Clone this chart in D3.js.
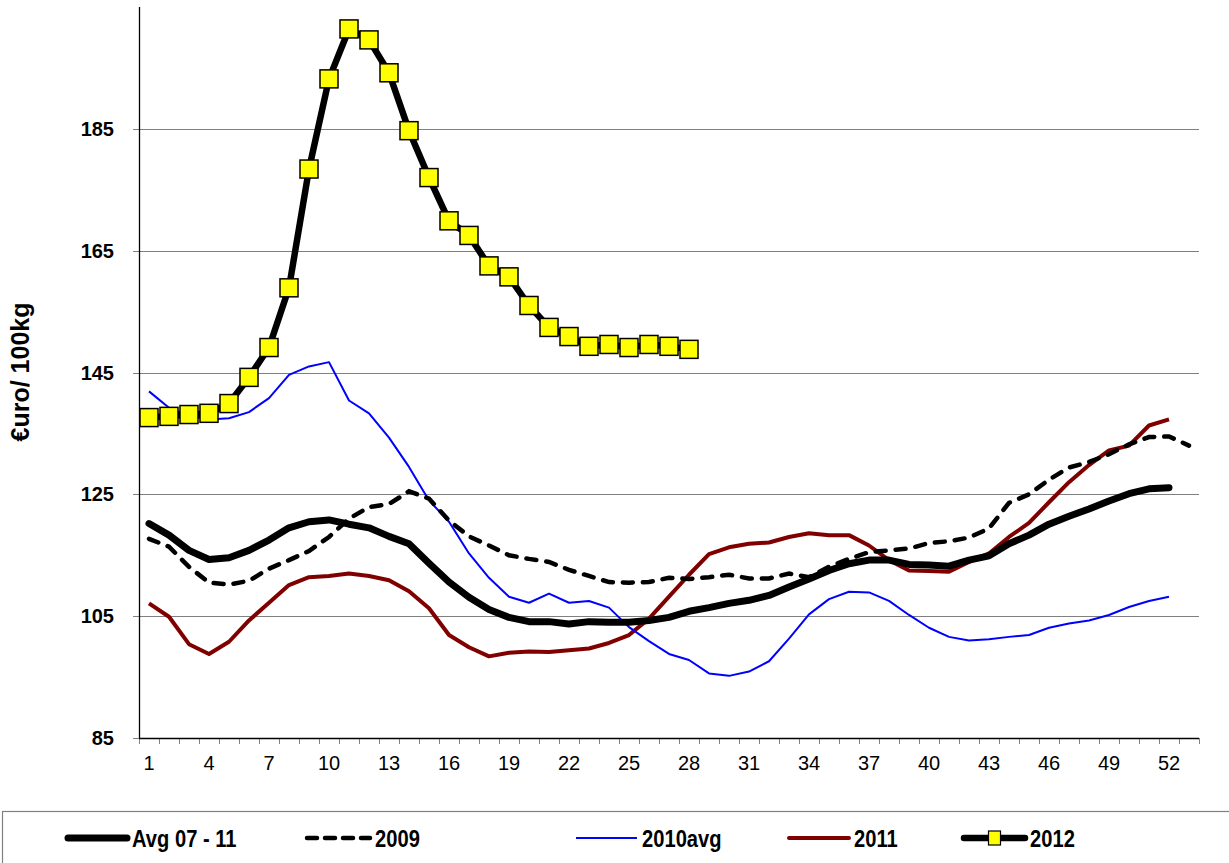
<!DOCTYPE html>
<html>
<head>
<meta charset="utf-8">
<script src="https://cdn.jsdelivr.net/npm/d3@7"></script>
<style>
  body { margin: 0; background: #fff; }
  svg { display: block; font-family: "Liberation Sans", Arial, sans-serif; }
</style>
</head>
<body>
<div id="chart"></div>
<script>
const xTickLabels = [1, 4, 7, 10, 13, 16, 19, 22, 25, 28, 31, 34, 37, 40, 43, 46, 49, 52];
const yTicks = [85, 105, 125, 145, 165, 185];

const avg0711 = [120.2, 118.3, 115.8, 114.3, 114.6, 115.8, 117.5, 119.5, 120.5, 120.8,
  120.1, 119.5, 118.1, 116.9, 113.7, 110.6, 108.1, 106.1, 104.8, 104.1,
  104.1, 103.7, 104.1, 104.0, 104.0, 104.3, 104.8, 105.8, 106.4, 107.1,
  107.6, 108.4, 109.8, 111.1, 112.5, 113.6, 114.2, 114.2, 113.5, 113.4,
  113.2, 114.2, 114.9, 116.9, 118.3, 120.1, 121.4, 122.6, 123.9, 125.1,
  125.9, 126.1];
const y2009 = [117.7, 116.4, 113.1, 110.5, 110.2, 110.8, 112.8, 114.2, 115.7, 118.0,
  121.0, 122.9, 123.4, 125.5, 124.3, 120.7, 118.1, 116.6, 115.0, 114.4,
  113.9, 112.6, 111.6, 110.6, 110.5, 110.6, 111.3, 111.1, 111.4, 111.8,
  111.2, 111.2, 112.0, 111.4, 113.1, 114.4, 115.5, 115.8, 116.1, 117.0,
  117.3, 117.9, 119.4, 123.6, 125.0, 127.4, 129.4, 130.3, 131.6, 133.2,
  134.4, 134.5, 133.0];
const y2010avg = [141.9, 139.2, 137.9, 137.3, 137.5, 138.5, 140.8, 144.6, 146.0, 146.7,
  140.4, 138.3, 134.3, 129.5, 124.0, 120.5, 115.3, 111.3, 108.2, 107.2,
  108.7, 107.2, 107.5, 106.4, 103.2, 100.9, 98.8, 97.8, 95.6, 95.2,
  95.9, 97.6, 101.3, 105.3, 107.8, 109.0, 108.9, 107.5, 105.2, 103.1,
  101.6, 101.0, 101.2, 101.6, 101.9, 103.1, 103.8, 104.3, 105.2, 106.5,
  107.5, 108.2];
const y2011 = [107.1, 104.9, 100.4, 98.8, 100.8, 104.3, 107.2, 110.1, 111.4, 111.6,
  112.0, 111.6, 110.9, 109.1, 106.3, 101.9, 99.9, 98.4, 99.0, 99.2,
  99.1, 99.4, 99.7, 100.6, 101.9, 104.6, 108.2, 111.8, 115.2, 116.3,
  116.9, 117.1, 118.0, 118.6, 118.3, 118.3, 116.6, 114.2, 112.5, 112.4,
  112.3, 113.9, 115.3, 118.0, 120.3, 123.7, 127.0, 129.8, 132.2, 133.0,
  136.3, 137.3];
const y2012 = [137.6, 137.8, 138.1, 138.3, 139.9, 144.2, 149.1, 158.9, 178.4, 193.2,
  201.4, 199.6, 194.2, 184.7, 177.0, 169.9, 167.5, 162.5, 160.7, 156.0,
  152.4, 150.9, 149.3, 149.6, 149.1, 149.6, 149.3, 148.8];

const width = 1229, height = 863;
const plotLeft = 139, plotRight = 1199, plotTop = 7, plotBottom = 738;

const svg = d3.select("#chart").append("svg")
  .attr("width", width).attr("height", height);

const x = d3.scaleLinear().domain([0.5, 53.5]).range([plotLeft, plotRight]);
const y = d3.scaleLinear().domain([85, 205]).range([plotBottom, plotTop]);

// gridlines
svg.append("g").selectAll("line").data(yTicks.slice(1)).join("line")
  .attr("x1", plotLeft - 6).attr("x2", plotRight)
  .attr("y1", d => Math.round(y(d)) + 0.5).attr("y2", d => Math.round(y(d)) + 0.5)
  .attr("stroke", "#808080").attr("stroke-width", 1.2);

// y axis
svg.append("g").selectAll("text").data(yTicks).join("text")
  .attr("x", 114).attr("y", d => y(d) + 7)
  .attr("text-anchor", "end")
  .attr("font-size", 20).attr("font-weight", "bold")
  .text(d => d);
svg.append("line")
  .attr("x1", plotLeft - 6).attr("x2", plotLeft).attr("y1", plotBottom + 0.5).attr("y2", plotBottom + 0.5)
  .attr("stroke", "#808080");
svg.append("line")
  .attr("x1", plotLeft + 0.5).attr("x2", plotLeft + 0.5).attr("y1", plotTop).attr("y2", plotBottom)
  .attr("stroke", "#000").attr("stroke-width", 1.3);

svg.append("text")
  .attr("transform", "translate(29,372) rotate(-90)")
  .attr("text-anchor", "middle")
  .attr("font-size", 25).attr("font-weight", "bold")
  .text("€uro/ 100kg");

// x axis
svg.append("g").selectAll("line").data(d3.range(0.5, 54, 1)).join("line")
  .attr("x1", d => Math.round(x(d)) + 0.5).attr("x2", d => Math.round(x(d)) + 0.5)
  .attr("y1", plotBottom).attr("y2", plotBottom + 6)
  .attr("stroke", "#808080");
svg.append("line")
  .attr("x1", plotLeft).attr("x2", plotRight).attr("y1", plotBottom + 0.5).attr("y2", plotBottom + 0.5)
  .attr("stroke", "#000").attr("stroke-width", 1.3);
svg.append("g").selectAll("text").data(xTickLabels).join("text")
  .attr("x", d => x(d)).attr("y", plotBottom + 32)
  .attr("text-anchor", "middle")
  .attr("font-size", 20)
  .text(d => d);

const line = d3.line().x((d, i) => x(i + 1)).y(d => y(d));

svg.append("path").datum(y2011)
  .attr("d", line).attr("fill", "none")
  .attr("stroke", "#800000").attr("stroke-width", 4).attr("stroke-linejoin", "round");
svg.append("path").datum(y2010avg)
  .attr("d", line).attr("fill", "none")
  .attr("stroke", "#0000ff").attr("stroke-width", 2).attr("stroke-linejoin", "round");
svg.append("path").datum(y2009)
  .attr("d", line).attr("fill", "none")
  .attr("stroke", "#000").attr("stroke-width", 4.5)
  .attr("stroke-dasharray", "10,10").attr("stroke-linecap", "round");
svg.append("path").datum(avg0711)
  .attr("d", line).attr("fill", "none")
  .attr("stroke", "#000").attr("stroke-width", 7)
  .attr("stroke-linejoin", "round").attr("stroke-linecap", "round");
svg.append("path").datum(y2012)
  .attr("d", line).attr("fill", "none")
  .attr("stroke", "#000").attr("stroke-width", 6.5).attr("stroke-linejoin", "round");

const sq = 18;
svg.append("g").selectAll("rect").data(y2012).join("rect")
  .attr("x", (d, i) => x(i + 1) - sq / 2).attr("y", d => y(d) - sq / 2)
  .attr("width", sq).attr("height", sq)
  .attr("fill", "#ffff00").attr("stroke", "#000").attr("stroke-width", 1.5);

// legend
svg.append("rect")
  .attr("x", 2.5).attr("y", 811.5).attr("width", 1240).attr("height", 70)
  .attr("fill", "none").attr("stroke", "#808080").attr("stroke-width", 1.2);

const legendItems = [
  { name: "Avg 07 - 11", x1: 68, x2: 127, color: "#000", w: 7, dash: null, marker: false },
  { name: "2009", x1: 307, x2: 370, color: "#000", w: 4.5, dash: "10,8", marker: false },
  { name: "2010avg", x1: 576, x2: 637, color: "#0000ff", w: 2, dash: null, marker: false },
  { name: "2011", x1: 789, x2: 849, color: "#800000", w: 4, dash: null, marker: false },
  { name: "2012", x1: 964, x2: 1025, color: "#000", w: 6.5, dash: null, marker: true }
];
const ly = 838;
const lg = svg.append("g").selectAll("g").data(legendItems).join("g");
lg.append("line")
  .attr("x1", d => d.x1).attr("x2", d => d.x2).attr("y1", ly).attr("y2", ly)
  .attr("stroke", d => d.color).attr("stroke-width", d => d.w)
  .attr("stroke-linecap", d => d.w > 2 ? "round" : "butt")
  .attr("stroke-dasharray", d => d.dash);
lg.filter(d => d.marker).append("rect")
  .attr("x", d => (d.x1 + d.x2) / 2 - 6).attr("y", ly - 7)
  .attr("width", 12).attr("height", 14)
  .attr("fill", "#ffff00").attr("stroke", "#000").attr("stroke-width", 1.2);
lg.append("text")
  .attr("transform", d => `translate(${d.x2 + 5},${ly + 9}) scale(0.84,1)`)
  .attr("font-size", 24).attr("font-weight", "bold")
  .text(d => d.name);
</script>
</body>
</html>
